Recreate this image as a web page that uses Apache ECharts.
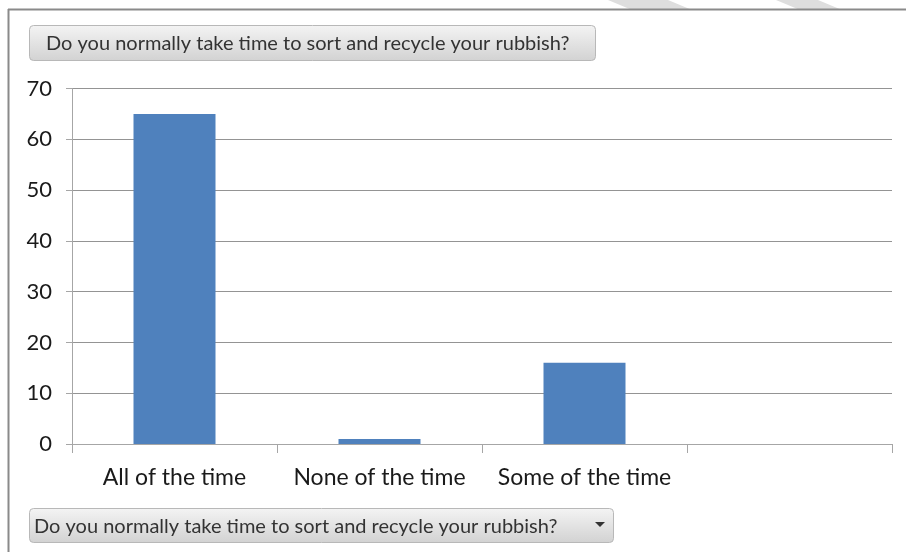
<!DOCTYPE html>
<html><head><meta charset="utf-8">
<script src="https://cdn.jsdelivr.net/npm/echarts@6/dist/echarts.min.js"></script>
<style>html,body{margin:0;padding:0;background:#fff}#c{width:906px;height:552px}</style>
</head><body><div id="c"></div>
<script>
const categories = ["All of the time", "None of the time", "Some of the time", ""];
const values = [65, 1, 16, null];
const yTicks = [0, 10, 20, 30, 40, 50, 60, 70];
const fieldLabel = "Do you normally take time to sort and recycle your rubbish?";

const FONT = "Lato";
const btnFill = new echarts.graphic.LinearGradient(0,0,0,1,[{offset:0,color:'#f4f4f4'},{offset:1,color:'#d2d2d2'}]);
const chart = echarts.init(document.getElementById('c'), null, {renderer:'canvas'});
chart.setOption({
  animation:false,
  backgroundColor:'#fff',
  grid:{left:72,right:14,top:88.5,bottom:108,containLabel:false},
  xAxis:{type:'category',data:categories,
    axisLine:{lineStyle:{color:'#a6a6a6',width:1}},
    axisTick:{show:true,length:9,lineStyle:{color:'#a6a6a6'}},
    axisLabel:{interval:0,hideOverlap:false,color:'#1a1a1a',fontFamily:FONT,fontSize:23,margin:22}},
  yAxis:{type:'value',min:yTicks[0],max:yTicks[yTicks.length-1],interval:10,
    axisLine:{show:true,lineStyle:{color:'#a6a6a6'}},
    axisTick:{show:true,length:6,lineStyle:{color:'#a6a6a6'}},
    splitLine:{lineStyle:{color:'#949494',width:1}},
    axisLabel:{color:'#1a1a1a',fontFamily:FONT,fontSize:22,margin:20}},
  series:[{type:'bar',data:values,barCategoryGap:'60%',itemStyle:{color:'#4f81bd'}}],
  graphic:[
    {type:'polygon',shape:{points:[[608,0],[668,0],[692,10],[632,10]]},style:{fill:'#dedede'},z:-1},
    {type:'polygon',shape:{points:[[776,0],[818,0],[842,10],[800,10]]},style:{fill:'#dedede'},z:-1},
    {type:'line',shape:{x1:8,y1:9.5,x2:906,y2:9.5},style:{stroke:'#8a8a8a',lineWidth:2}},
    {type:'line',shape:{x1:8.5,y1:9,x2:8.5,y2:552},style:{stroke:'#8a8a8a',lineWidth:2}},
    {type:'rect',shape:{x:29.5,y:25.5,width:566,height:35,r:4},style:{fill:btnFill,stroke:'#b8b8b8',lineWidth:1}},
    {type:'text',x:46,y:44,style:{text:fieldLabel,fontFamily:FONT,fontSize:20,fill:'#333',verticalAlign:'middle'}},
    {type:'rect',shape:{x:29.5,y:508.5,width:584,height:34,r:4},style:{fill:btnFill,stroke:'#b8b8b8',lineWidth:1}},
    {type:'text',x:34,y:527,style:{text:fieldLabel,fontFamily:FONT,fontSize:20,fill:'#333',verticalAlign:'middle'}},
    {type:'polygon',shape:{points:[[595,522],[605,522],[600,527]]},style:{fill:'#333'}}
  ]
});
</script></body></html>
